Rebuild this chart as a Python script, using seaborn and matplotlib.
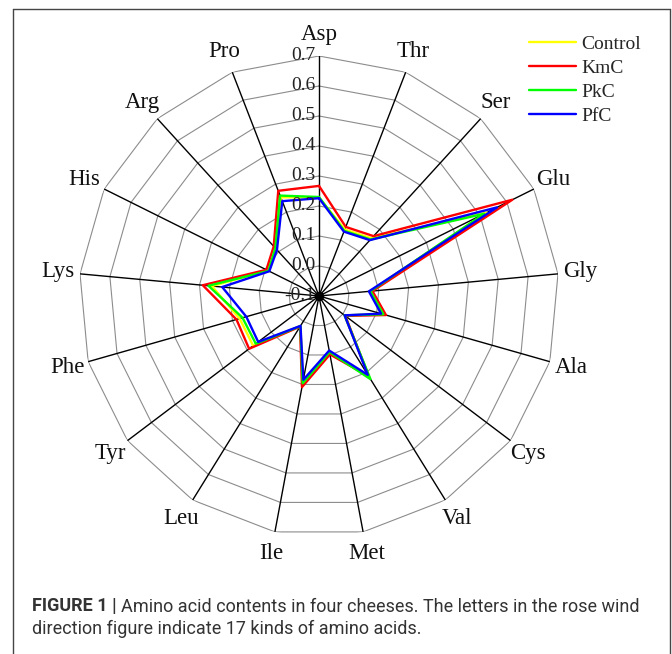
import numpy as np
import pandas as pd
import matplotlib
matplotlib.use("Agg")
import matplotlib.pyplot as plt
from matplotlib.lines import Line2D
import seaborn as sns

# ---------------- data ----------------
categories = ['Asp', 'Thr', 'Ser', 'Glu', 'Gly', 'Ala', 'Cys', 'Val', 'Met',
              'Ile', 'Leu', 'Tyr', 'Phe', 'Lys', 'His', 'Arg', 'Pro']
control = [0.228, 0.138, 0.160, 0.525, 0.073, 0.122, 0.007, 0.218, 0.090,
           0.190, 0.018, 0.175, 0.175, 0.259, 0.090, 0.112, 0.253]
kmc = [0.267, 0.147, 0.170, 0.620, 0.079, 0.132, 0.010, 0.215, 0.098,
       0.209, 0.020, 0.192, 0.186, 0.289, 0.096, 0.124, 0.276]
pkc = [0.230, 0.133, 0.155, 0.515, 0.072, 0.123, 0.007, 0.226, 0.090,
       0.196, 0.018, 0.164, 0.165, 0.270, 0.088, 0.116, 0.259]
pfc = [0.226, 0.130, 0.152, 0.563, 0.067, 0.115, 0.007, 0.209, 0.085,
       0.184, 0.017, 0.154, 0.152, 0.224, 0.085, 0.108, 0.239]
series_names = ['Control', 'KmC', 'PkC', 'PfC']
series_values = [control, kmc, pkc, pfc]
series_colors = ['#FFFF00', '#FF0000', '#00FF00', '#0000FF']
tick_values = [-0.1, 0.0, 0.1, 0.2, 0.3, 0.4, 0.5, 0.6, 0.7]
tick_labels = ['-0.1', '0.0', '0.1', '0.2', '0.3', '0.4', '0.5', '0.6', '0.7']
caption_bold = 'FIGURE 1 | '
caption_rest1 = 'Amino acid contents in four cheeses. The letters in the rose wind'
caption_line2 = 'direction figure indicate 17 kinds of amino acids.'

# ---------------- style ----------------
sns.set_style('white')
plt.rcParams['font.family'] = ['Liberation Serif', 'DejaVu Serif']

W, H = 672, 654
fig = plt.figure(figsize=(W / 100, H / 100), dpi=100)

cx, cy, R = 319, 296, 240
ax = fig.add_axes([(cx - R) / W, (H - cy - R) / H, 2 * R / W, 2 * R / H],
                  projection='polar')
ax.set_theta_zero_location('N')
ax.set_theta_direction(-1)
rmin, rmax = -0.1, 0.7
ax.set_ylim(rmin, rmax)
ax.grid(False)
ax.spines['polar'].set_visible(False)
ax.set_xticks([])
ax.set_yticks([])
ax.set_facecolor('none')

n = len(categories)
theta = np.linspace(0, 2 * np.pi, n, endpoint=False)
theta_closed = np.append(theta, 2 * np.pi)

# polygon gridlines
for v in tick_values[1:]:
    ax.plot(theta_closed, [v] * (n + 1), color='#8c8c8c', lw=0.8, zorder=1)
# spokes
for t in theta:
    ax.plot([t, t], [rmin, rmax], color='black', lw=1.0, zorder=2)
ax.scatter([0], [rmin], s=34, color='black', zorder=6)

# data lines through seaborn
rows = []
for name, vals in zip(series_names, series_values):
    closed = list(vals) + [vals[0]]
    for i, (t, v) in enumerate(zip(theta_closed, closed)):
        rows.append({'theta': t, 'value': v, 'cheese': name, 'order': i})
df = pd.DataFrame(rows)
sns.lineplot(data=df, x='theta', y='value', hue='cheese',
             hue_order=series_names, palette=series_colors,
             sort=False, estimator=None, lw=1.7, ax=ax, zorder=4)
ax.set_xlabel('')
ax.set_ylabel('')
ax.set_ylim(rmin, rmax)

# tick labels on Asp axis
for v, lab in zip(tick_values, tick_labels):
    ax.annotate(lab, xy=(0, v), xytext=(-2.5, 0), textcoords='offset points',
                ha='right', va='center', fontsize=14, color='#222222', zorder=5)

# category labels
for t, lab in zip(theta, categories):
    ax.text(t, 0.773, lab, ha='center', va='center', fontsize=16.5,
            color='#111111')

# legend
sns.move_legend(ax, 'upper left', bbox_to_anchor=(529 / W, 1 - 35 / H),
                bbox_transform=fig.transFigure, frameon=False, title=None,
                fontsize=14, handlelength=2.4, handletextpad=0.28,
                labelspacing=0.34, borderpad=0, borderaxespad=0)
leg = ax.get_legend()
for h in leg.legend_handles:
    h.set_linewidth(1.7)

# border
bc = '#444444'
fig.add_artist(Line2D([13 / W, 13 / W], [0, 1 - 9 / H], transform=fig.transFigure, color=bc, lw=1))
fig.add_artist(Line2D([13 / W, 670 / W], [1 - 9 / H, 1 - 9 / H], transform=fig.transFigure, color=bc, lw=1))
fig.add_artist(Line2D([670 / W, 670 / W], [0, 1 - 9 / H], transform=fig.transFigure, color=bc, lw=1))

# caption
cap_font = ['Roboto', 'DejaVu Sans']
renderer = fig.canvas.get_renderer()
fs = 13
x0 = 32 / W
y1 = 1 - 611.5 / H
y2 = 1 - 633.5 / H
tb = fig.text(x0, y1, caption_bold, fontsize=fs, fontweight='bold', family=cap_font,
              color='#333333', va='baseline', ha='left')
tr = fig.text(0, y1, caption_rest1, fontsize=fs, family=cap_font,
              color='#333333', va='baseline', ha='left')
wb = tb.get_window_extent(renderer).width
wr = tr.get_window_extent(renderer).width
scale = 608 / (wb + wr)
fs2 = fs * scale
tb.set_fontsize(fs2)
tr.set_fontsize(fs2)
wb = tb.get_window_extent(renderer).width
tr.set_x(x0 + wb / W)
fig.text(x0, y2, caption_line2, fontsize=fs2, family=cap_font,
         color='#333333', va='baseline', ha='left')

fig.savefig('out.png', dpi=100)
